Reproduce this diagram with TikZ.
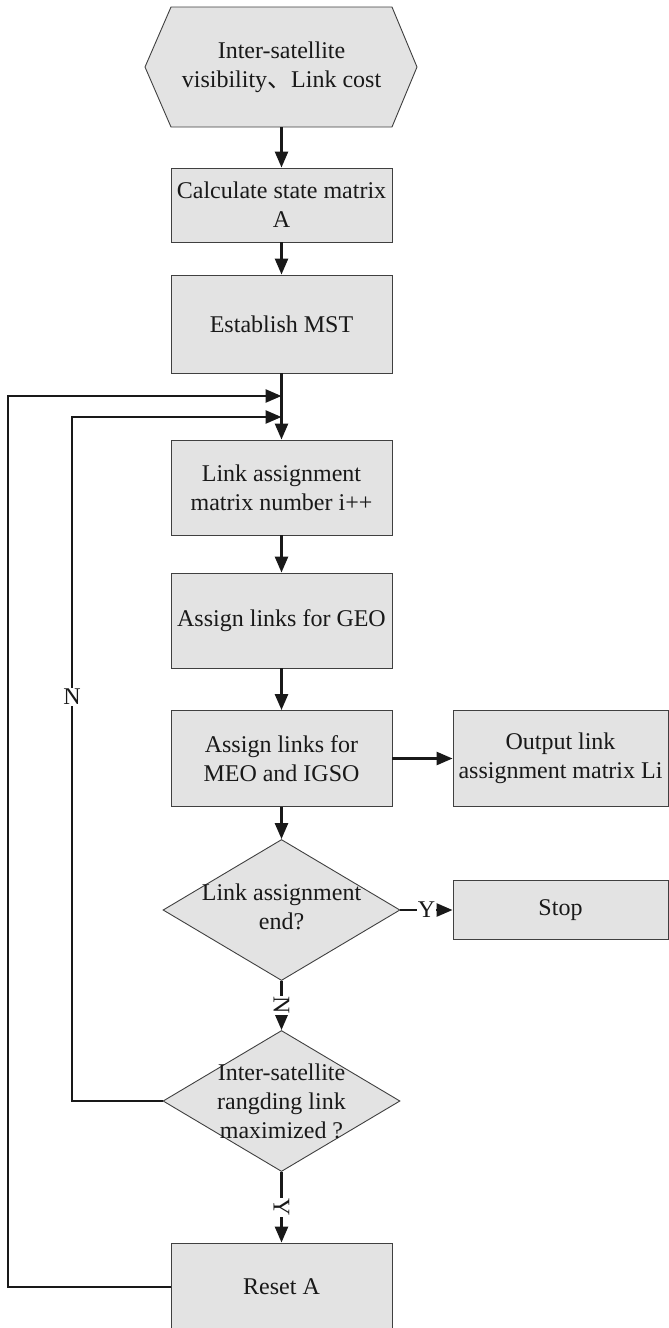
\documentclass[tikz,border=0pt]{standalone}
\usepackage{fontspec}
\setmainfont{Liberation Serif}
\newfontfamily\cjk{Noto Sans CJK SC}
\usetikzlibrary{arrows.meta,shapes.geometric}
\begin{document}
\begin{tikzpicture}[x=1pt,y=-1pt,
  every node/.style={font=\fontsize{24}{29}\selectfont, text=black!90},
  box/.style={draw=black!75, line width=0.9pt, fill=black!11, minimum width=221pt,
              align=center, inner sep=0pt},
  dia/.style={diamond, draw=black!75, line width=0.9pt, fill=black!11, inner sep=0pt,
              minimum width=237pt, minimum height=141pt},
  txt/.style={align=center, inner sep=0pt},
  flow/.style={line width=2.6pt, draw=black!90,
               -{Triangle[length=16pt,width=13pt]}},
  tag/.style={fill=white, inner sep=1pt}
]
\useasboundingbox (0,0) rectangle (669,1328);

% input hexagon
\filldraw[draw=black!75, line width=0.9pt, fill=black!11]
  (171,7) -- (392,7) -- (417,67) -- (392,127) -- (171,127) -- (145,67) -- cycle;
\node[txt, minimum width=272pt, minimum height=120pt] (src) at (281.5,67)
  {Inter-satellite\\visibility{\cjk 、}Link cost};

% main column
\node[box, minimum height=74pt] (calc) at (281.5,205) {Calculate state matrix\\A};
\node[box, minimum height=98pt] (mst) at (281.5,324) {Establish MST};
\node[box, minimum height=95pt] (assign) at (281.5,487.5) {Link assignment\\matrix number i++};
\node[box, minimum height=95pt] (geo) at (281.5,620.5) {Assign links for GEO};
\node[box, minimum height=96pt] (meo) at (281.5,758.5) {Assign links for\\MEO and IGSO};
\node[box, minimum width=215pt, minimum height=96pt] (out) at (560.5,758.5)
  {Output link\\assignment matrix Li};

\node[dia] (d1) at (281.5,910) {};
\node[txt] (d1t) at (281.5,907) {Link assignment\\end?};
\node[box, minimum width=215pt, minimum height=59pt] (stop) at (560.5,910) {Stop};

\node[dia] (d2) at (281.5,1101) {};
\node[txt] (d2t) at (281.5,1101) {Inter-satellite\\rangding link\\maximized ?};

\node[box, minimum height=88pt] (reset) at (281.5,1287) {Reset A};

% joints of the feedback lines
\coordinate (j1) at (281.5,396);
\coordinate (j2) at (281.5,417);
\coordinate (c1) at (8,396);
\coordinate (c2) at (72,417);

% connectors
\draw[flow] (src.south) -- (calc.north);
\draw[flow] (calc.south) -- (mst.north);
\draw[flow] (mst.south) -- (assign.north);
\draw[flow] (assign.south) -- (geo.north);
\draw[flow] (geo.south) -- (meo.north);
\draw[flow] (meo.east) -- (out.west);
\draw[flow] (meo.south) -- (d1.north);
\draw[flow] (d1.east) -- node[tag] (y1) {Y} (stop.west);
\draw[flow] (d1.south) -- node[tag, rotate=-90] (n1) {N} (d2.north);
\draw[flow] (d2.south) -- node[tag, rotate=-90] (y2) {Y} (reset.north);
\draw[flow] (reset.west) -| (c1) -- (j1);
\draw[flow] (d2.west) -| (c2) -- (j2);
\node[tag] (n2) at (72,697) {N};
\end{tikzpicture}
\end{document}
